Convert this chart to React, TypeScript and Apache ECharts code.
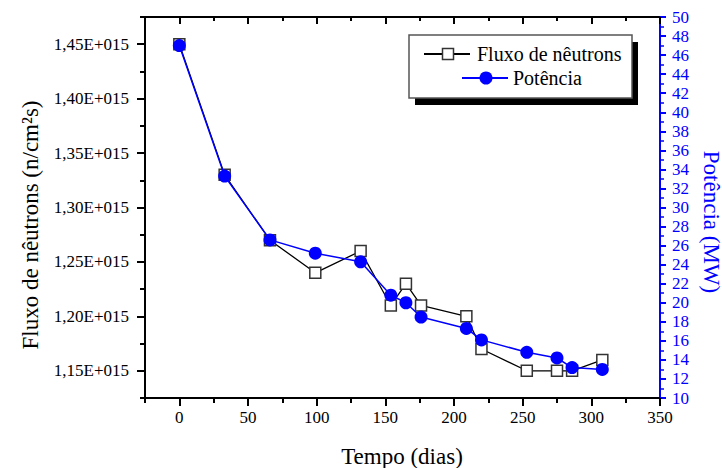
import React, { useEffect, useRef } from 'react';
import * as echarts from 'echarts';

// Days of operation
const days = [0, 33, 66, 99, 132, 154, 165, 176, 209, 220, 253, 275, 286, 308];
// Neutron flux (×1E+015 n/cm²s)
const flux = [1.45, 1.33, 1.27, 1.24, 1.26, 1.21, 1.23, 1.21, 1.2, 1.17, 1.15, 1.15, 1.15, 1.16];
// Power (MW)
const power = [47.0, 33.3, 26.6, 25.2, 24.3, 20.8, 20.0, 18.5, 17.3, 16.1, 14.8, 14.2, 13.2, 13.0];

const fluxTicks = [1.15, 1.2, 1.25, 1.3, 1.35, 1.4, 1.45];
const fluxMinorTicks = [1.125, 1.175, 1.225, 1.275, 1.325, 1.375, 1.425, 1.475];
const xTicks = [0, 50, 100, 150, 200, 250, 300, 350];
const xMinorTicks = [-25, 25, 75, 125, 175, 225, 275, 325];

const FONT = 'Liberation Serif';
const BLUE = '#0000ff';

export default function App() {
  const ref = useRef<HTMLDivElement>(null);

  useEffect(() => {
    if (!ref.current) return;
    const chart = echarts.init(ref.current, undefined, { renderer: 'svg' });

    const baseX = { type: 'value', min: -25, max: 350, splitLine: { show: false } };
    const baseYL = { type: 'value', min: 1.125, max: 1.475, splitLine: { show: false } };
    const lbl = (size: number, color: string) => ({ fontSize: size, fontFamily: FONT, color });

    chart.setOption({
      animation: false,
      backgroundColor: '#ffffff',
      grid: { left: 145, right: 62, top: 17, bottom: 70, containLabel: false },
      xAxis: [
        {
          ...baseX,
          position: 'bottom',
          axisLine: { show: true, onZero: false, lineStyle: { color: '#000', width: 2 } },
          axisTick: { show: true, customValues: xTicks, length: 8, lineStyle: { color: '#000', width: 2 } },
          axisLabel: { show: true, customValues: xTicks, margin: 11, ...lbl(17, '#000') },
        },
        {
          ...baseX,
          position: 'bottom',
          axisLine: { show: false, onZero: false },
          axisTick: { show: true, customValues: xMinorTicks, length: 5, lineStyle: { color: '#000', width: 2 } },
          axisLabel: { show: false },
        },
        {
          ...baseX,
          position: 'top',
          axisLine: { show: true, onZero: false, lineStyle: { color: '#000', width: 2 } },
          axisTick: { show: true, inside: true, customValues: xTicks, length: 7, lineStyle: { color: '#000', width: 2 } },
          axisLabel: { show: false },
        },
        {
          ...baseX,
          position: 'top',
          axisLine: { show: false, onZero: false },
          axisTick: { show: true, inside: true, customValues: xMinorTicks, length: 4, lineStyle: { color: '#000', width: 2 } },
          axisLabel: { show: false },
        },
      ],
      yAxis: [
        {
          ...baseYL,
          position: 'left',
          axisLine: { show: true, onZero: false, lineStyle: { color: '#000', width: 2 } },
          axisTick: { show: true, customValues: fluxTicks, length: 8, lineStyle: { color: '#000', width: 2 } },
          axisLabel: {
            show: true,
            customValues: fluxTicks,
            margin: 16,
            ...lbl(17, '#000'),
            formatter: (v: number) => v.toFixed(2).replace('.', ',') + 'E+015',
          },
        },
        {
          ...baseYL,
          position: 'left',
          axisLine: { show: false, onZero: false },
          axisTick: { show: true, customValues: fluxMinorTicks, length: 5, lineStyle: { color: '#000', width: 2 } },
          axisLabel: { show: false },
        },
        {
          type: 'value',
          position: 'right',
          min: 10,
          max: 50,
          interval: 2,
          splitLine: { show: false },
          axisLine: { show: true, onZero: false, lineStyle: { color: BLUE, width: 2 } },
          axisTick: { show: true, length: 6, lineStyle: { color: BLUE, width: 2 } },
          minorTick: { show: true, splitNumber: 2, length: 4, lineStyle: { color: BLUE, width: 1.5 } },
          minorSplitLine: { show: false },
          axisLabel: { show: true, margin: 12, ...lbl(17, BLUE) },
        },
      ],
      series: [
        {
          name: 'Fluxo de nêutrons',
          type: 'line',
          xAxisIndex: 0,
          yAxisIndex: 0,
          data: days.map((d, i) => [d, flux[i]]),
          symbol: 'rect',
          symbolSize: 11,
          showAllSymbol: true,
          lineStyle: { color: '#000', width: 1.3 },
          itemStyle: { color: '#ffffff', borderColor: '#333', borderWidth: 1.5 },
          z: 2,
        },
        {
          name: 'Potência',
          type: 'line',
          xAxisIndex: 0,
          yAxisIndex: 2,
          data: days.map((d, i) => [d, power[i]]),
          symbol: 'circle',
          symbolSize: 13,
          showAllSymbol: true,
          lineStyle: { color: BLUE, width: 1.5 },
          itemStyle: { color: BLUE, borderWidth: 0 },
          z: 3,
        },
      ],
      graphic: [
        {
          type: 'text',
          x: 30,
          y: 225,
          rotation: Math.PI / 2,
          style: {
            text: 'Fluxo de nêutrons (n/cm²s)',
            fontSize: 23,
            fontFamily: FONT,
            fill: '#000',
            align: 'center',
            verticalAlign: 'middle',
          },
        },
        {
          type: 'text',
          x: 711,
          y: 222,
          rotation: -Math.PI / 2,
          style: {
            text: 'Potência (MW)',
            fontSize: 23,
            fontFamily: FONT,
            fill: BLUE,
            align: 'center',
            verticalAlign: 'middle',
          },
        },
        {
          type: 'text',
          x: 402,
          y: 456,
          style: {
            text: 'Tempo (dias)',
            fontSize: 23,
            fontFamily: FONT,
            fill: '#000',
            align: 'center',
            verticalAlign: 'middle',
          },
        },
        // legend box shadow + box
        { type: 'rect', shape: { x: 415, y: 42, width: 223, height: 63 }, style: { fill: '#000' }, z: 10 },
        { type: 'rect', shape: { x: 409, y: 35, width: 223, height: 63 }, style: { fill: '#fff', stroke: '#555', lineWidth: 1.5 }, z: 11 },
        // legend item 1
        { type: 'line', shape: { x1: 424, y1: 54, x2: 470, y2: 54 }, style: { stroke: '#000', lineWidth: 2 }, z: 12 },
        { type: 'rect', shape: { x: 442.5, y: 48.5, width: 11, height: 11 }, style: { fill: '#fff', stroke: '#333', lineWidth: 1.5 }, z: 13 },
        {
          type: 'text',
          x: 477,
          y: 54,
          z: 13,
          style: { text: 'Fluxo de nêutrons', fontSize: 20, fontFamily: FONT, fill: '#000', verticalAlign: 'middle' },
        },
        // legend item 2
        { type: 'line', shape: { x1: 462, y1: 78, x2: 508, y2: 78 }, style: { stroke: BLUE, lineWidth: 2 }, z: 12 },
        { type: 'circle', shape: { cx: 486, cy: 78, r: 6.5 }, style: { fill: BLUE }, z: 13 },
        {
          type: 'text',
          x: 513,
          y: 78,
          z: 13,
          style: { text: 'Potência', fontSize: 20, fontFamily: FONT, fill: '#000', verticalAlign: 'middle' },
        },
      ],
    });

    return () => chart.dispose();
  }, []);

  return <div ref={ref} style={{ width: 722, height: 468, position: 'absolute', left: 0, top: 0 }} />;
}
